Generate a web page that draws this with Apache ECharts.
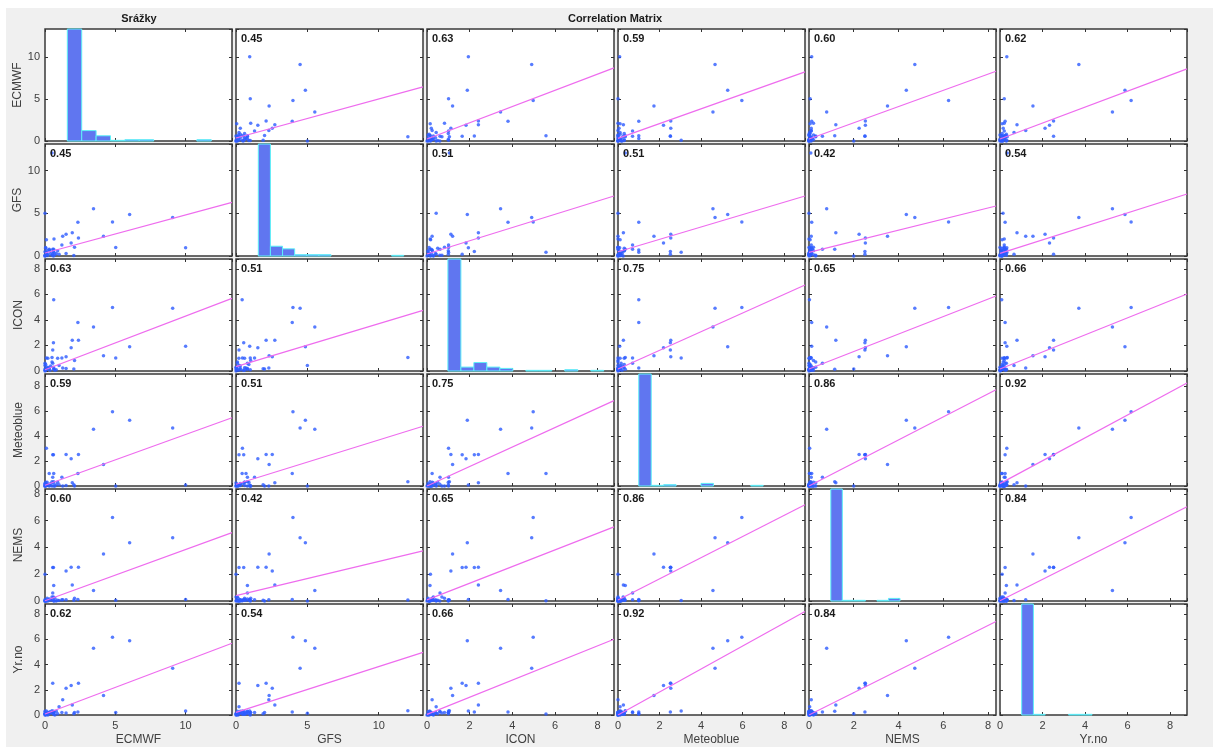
<!DOCTYPE html>
<html lang="cs">
<head>
  <meta charset="UTF-8">
  <title>Correlation Matrix</title>
  <style>
    html, body { margin: 0; padding: 0; background: #fff; }
    #panel { position: absolute; left: 6px; top: 8px; width: 1207px; height: 739px; background: #f0f0f0; }
    #chart { position: absolute; left: 0; top: 0; width: 1213px; height: 747px; }
  </style>
</head>
<body>
  <div id="panel"></div>
  <div id="chart"></div>

  <script src="https://cdn.jsdelivr.net/npm/echarts/dist/echarts.min.js"></script>
  <script>
    // Daily precipitation per model (one entry per observation)
    var names = ['ECMWF', 'GFS', 'ICON', 'Meteoblue', 'NEMS', 'Yr.no'];
    var ecmwf = [10.0, 9.08, 6.02, 5.03, 4.8, 4.16, 3.45, 2.34, 2.38, 0, 1.94, 1.5, 0.62, 0, 0.5, 1.86, 0.6, 0.55, 0.1, 0.62, 0.55, 1.26, 1.0, 1.2, 0.64, 2.1, 2.05, 0.1, 1.5, 0.3, 0, 0.1, 0.2, 0, 0.3, 0.05, 0.5, 0.8, 0.15, 0.4, 0.05, 0.9, 0.2, 0.6, 0.35, 0.7, 0];
    var gfs = [0.96, 4.49, 4.86, 1.0, 3.99, 2.32, 5.52, 3.94, 2.11, 5.0, 2.72, 2.54, 0.43, 0, 12.04, 1.53, 0.54, 0.21, 0.45, 0.8, 0.8, 2.3, 0.21, 1.3, 2.0, 1.03, 0.05, 1.9, 0.3, 0.7, 0, 0.2, 0.05, 0.5, 0.8, 0.9, 0.1, 0.3, 0.6, 0.3, 1.0, 0.6, 0.2, 0, 0.6, 0.15, 0.1];
    var icon = [1.94, 4.91, 1.89, 1.01, 4.98, 1.2, 3.45, 3.8, 2.41, 0.43, 2.41, 1.12, 5.58, 0.16, 1.05, 1.83, 2.22, 1.65, 1.01, 0.14, 0.61, 0.24, 0.43, 1.01, 0.15, 0.82, 0.15, 0.17, 0.2, 0.24, 0, 0.1, 0.3, 0.05, 0.2, 0.5, 0.7, 0.1, 0.25, 0.4, 0.1, 1.0, 1.0, 0.3, 0.05, 0.05, 0.6];
    var meteoblue = [0.08, 4.67, 5.28, 0, 5.96, 1.73, 4.57, 1.0, 2.54, 0, 0.26, 2.54, 1.0, 0, 0.35, 2.19, 2.52, 2.52, 3.04, 0.35, 0.7, 0, 0.1, 0.7, 0, 0, 0.1, 0.1, 0.05, 1.0, 0, 0.05, 0.1, 0.2, 0, 0.3, 0, 0.1, 0.3, 0.2, 0, 0.3, 0.1, 0.25, 0.05, 0, 0.15];
    var nems = [0.12, 4.73, 4.35, 0.05, 6.24, 3.51, 0.79, 0.12, 2.52, 0, 1.2, 2.24, 0.02, 2.0, 0.08, 2.52, 2.5, 2.5, 0.03, 1.15, 0.6, 0.1, 0.03, 0.1, 0, 0.2, 0.05, 0.05, 0.1, 0.05, 0, 0, 0.05, 0.1, 0.15, 0.05, 0.3, 0, 0.2, 0.1, 0, 0.05, 0, 0.3, 0.12, 0.2, 0];
    var yrno = [0.32, 3.71, 5.88, 0.2, 6.17, 1.55, 5.29, 0.24, 2.52, 0.14, 0.8, 2.12, 0.08, 0.1, 0.34, 2.33, 0.24, 2.52, 0.32, 0.3, 0.24, 1.21, 0.66, 0.2, 0.2, 0.2, 0.1, 0.1, 0.15, 0.1, 0, 0.1, 0, 0.05, 0.2, 0.1, 0.15, 0.3, 0.05, 0.2, 0, 0.1, 0.2, 0.08, 0.25, 0, 0.3];

    // Axis ranges and tick steps per variable
    var axisMax = [13.3, 13.1, 8.77, 9.0, 8.36, 8.8];
    var tickStep = [5, 5, 2, 2, 2, 2];

    // Correlation coefficients shown in each panel
    var corr = [
      [null, '0.45', '0.63', '0.59', '0.60', '0.62'],
      ['0.45', null, '0.51', '0.51', '0.42', '0.54'],
      ['0.63', '0.51', null, '0.75', '0.65', '0.66'],
      ['0.59', '0.51', '0.75', null, '0.86', '0.92'],
      ['0.60', '0.42', '0.65', '0.86', null, '0.84'],
      ['0.62', '0.54', '0.66', '0.92', '0.84', null]
    ];

    // Least-squares lines: y value at the left and at the right edge of each panel
    var fitStart = [
      [null, 0.36, 0.24, 0.31, 0.24, 0.24],
      [0.35, null, 0.23, 0.5, 0.43, 0.31],
      [0.1, 0.34, null, 0.16, 0.16, 0.16],
      [0.06, 0.14, 0, null, 0, 0.19],
      [0.02, 0.4, 0.08, 0.08, null, 0.02],
      [0.08, 0.21, 0.05, 0, 0, null]
    ];
    var fitEnd = [
      [null, 6.43, 8.69, 8.21, 8.29, 8.57],
      [6.28, null, 7.02, 7.02, 5.85, 7.25],
      [5.69, 4.75, null, 6.74, 5.87, 6.03],
      [5.48, 4.8, 6.86, null, 7.73, 8.27],
      [5.1, 3.74, 5.53, 7.19, null, 7.04],
      [5.69, 4.96, 6.01, 8.2, 7.41, null]
    ];

    // Histogram counts on the diagonal (first bin runs off the top)
    var histEcmwf = [200, 16, 8, 1, 2, 2, 0, 0, 0, 2];
    var histGfs = [200, 15, 11, 2, 2, 2, 0, 0, 0, 0, 0, 1];
    var histIcon = [200, 6, 13, 6, 4, 0, 1, 1, 0, 2, 0, 1];
    var histMeteoblue = [200, 1, 2, 0, 0, 4, 0, 0, 0, 1];
    var histNems = [200, 1, 1, 0, 1, 4];
    var histYrno = [200, 1, 0, 0, 1, 1];

    var vars = [ecmwf, gfs, icon, meteoblue, nems, yrno];
    var hists = [histEcmwf, histGfs, histIcon, histMeteoblue, histNems, histYrno];
    // hidden bin axis limits, so the bars sit inside the panel like the original
    var histLimits = [[-1.55, 11.44], [-1.84, 13.59], [-1.61, 12.79], [-1.67, 13.36], [-1.89, 14.32], [-1.85, 14.1]];
    var histTop = 172;

    var FONT = '"Liberation Sans", Arial, Helvetica, sans-serif';

    function valueAxis(g, v, pos, labels) {
      var horizontal = (pos === 'bottom' || pos === 'top');
      var ax = {
        gridIndex: g,
        type: 'value',
        position: pos,
        min: 0,
        max: axisMax[v],
        interval: tickStep[v],
        axisLine: { show: false, onZero: false },
        splitLine: { show: false },
        axisTick: { inside: true, length: 3, lineStyle: { color: '#333', width: 1 } },
        axisLabel: { show: labels, showMaxLabel: false, fontSize: 11, color: '#404040', fontFamily: FONT, margin: 5 }
      };
      if (labels) {
        ax.name = names[v];
        ax.nameLocation = 'middle';
        ax.nameGap = horizontal ? 19 : 20;
        ax.nameTextStyle = { fontSize: 12, color: '#404040', fontFamily: FONT };
        if (!horizontal) ax.nameRotate = 90;
      }
      return ax;
    }

    // one histogram bin, clipped to the panel
    function renderBin(params, api) {
      var k = api.value(0), cnt = api.value(1);
      var p0 = api.coord([k, 0]);
      var p1 = api.coord([k + 1, cnt]);
      var cs = params.coordSys;
      var x0 = Math.max(p0[0], cs.x), x1 = Math.min(p1[0], cs.x + cs.width);
      var y0 = Math.max(p1[1], cs.y), y1 = Math.min(p0[1], cs.y + cs.height);
      return {
        type: 'rect',
        shape: { x: x0, y: y0, width: x1 - x0, height: y1 - y0 },
        style: { fill: '#6076f0', stroke: '#5ef0f7', lineWidth: 1 }
      };
    }

    function buildOption() {
      var grids = [], xAxes = [], yAxes = [], series = [], texts = [];

      for (var r = 0; r < 6; r++) {
        for (var c = 0; c < 6; c++) {
          var g = grids.length;
          var gridLeft = 45 + c * 191, gridTop = 29 + r * 115;
          grids.push({ left: gridLeft, top: gridTop, width: 187, height: 112, show: true,
            backgroundColor: '#fff', borderColor: '#3a3a3a', borderWidth: 1.5 });

          var xi = xAxes.length, yi = yAxes.length;
          xAxes.push(valueAxis(g, c, 'bottom', r === 5));
          xAxes.push(valueAxis(g, c, 'top', false));
          yAxes.push(valueAxis(g, r, 'left', c === 0));
          yAxes.push(valueAxis(g, r, 'right', false));

          if (r === c) {
            var hx = xAxes.length, hy = yAxes.length;
            xAxes.push({ gridIndex: g, type: 'value', show: false, min: histLimits[c][0], max: histLimits[c][1] });
            yAxes.push({ gridIndex: g, type: 'value', show: false, min: 0, max: histTop });
            var bins = [];
            hists[c].forEach(function (v, k) { if (v > 0) bins.push([k, v]); });
            series.push({ type: 'custom', xAxisIndex: hx, yAxisIndex: hy, renderItem: renderBin, data: bins, z: 2 });
          } else {
            var xs = vars[c], ys = vars[r];
            series.push({
              type: 'scatter',
              xAxisIndex: xi,
              yAxisIndex: yi,
              data: xs.map(function (v, k) { return [v, ys[k]]; }),
              symbol: 'circle',
              symbolSize: 3.5,
              itemStyle: { color: '#2d5bff' },
              z: 3
            });
            series.push({
              type: 'line',
              xAxisIndex: xi,
              yAxisIndex: yi,
              data: [[0, fitStart[r][c]], [axisMax[c], fitEnd[r][c]]],
              symbol: 'none',
              lineStyle: { color: '#ee6cee', width: 1.2 },
              z: 4
            });
            texts.push({
              type: 'text', x: gridLeft + 5, y: gridTop + 10, z: 10,
              style: { text: corr[r][c], fontSize: 11, fontWeight: 'bold', fontFamily: FONT,
                fill: '#1a1a1a', align: 'left', verticalAlign: 'middle' }
            });
          }
        }
      }

      texts.push({ type: 'text', x: 139, y: 19, z: 10,
        style: { text: 'Srážky', fontSize: 11, fontWeight: 'bold', fontFamily: FONT, fill: '#1a1a1a', align: 'center', verticalAlign: 'middle' } });
      texts.push({ type: 'text', x: 615, y: 19, z: 10,
        style: { text: 'Correlation Matrix', fontSize: 11, fontWeight: 'bold', fontFamily: FONT, fill: '#1a1a1a', align: 'center', verticalAlign: 'middle' } });

      return {
        animation: false,
        grid: grids,
        xAxis: xAxes,
        yAxis: yAxes,
        series: series,
        graphic: texts
      };
    }

    var myChart = echarts.init(document.getElementById('chart'));
    myChart.setOption(buildOption());
  </script>
</body>
</html>
